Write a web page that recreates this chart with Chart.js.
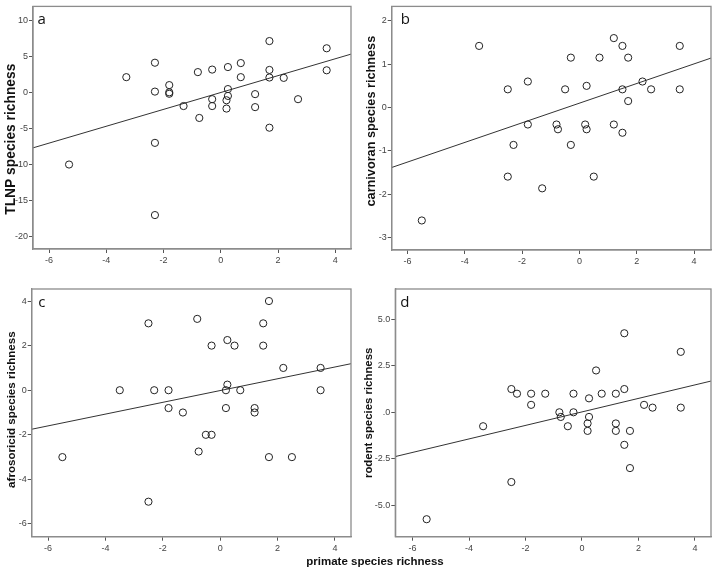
<!DOCTYPE html>
<html>
<head>
<meta charset="utf-8">
<script src="https://cdn.jsdelivr.net/npm/chart.js@4.4.1/dist/chart.umd.min.js"></script>
<style>
  body { margin: 0; background: #fff; width: 716px; height: 569px; position: relative; overflow: hidden; }
  canvas { position: absolute; }
  #xtitle { position: absolute; left: 0; width: 750px; top: 555px; text-align: center;
            font: bold 11.5px "Liberation Sans", Arial, sans-serif; color: #111; }
</style>
</head>
<body>
<canvas id="pa" width="356" height="272" style="left:0;top:0"></canvas>
<canvas id="pb" width="360" height="272" style="left:356px;top:0"></canvas>
<canvas id="pc" width="356" height="297" style="left:0;top:272px"></canvas>
<canvas id="pd" width="360" height="297" style="left:356px;top:272px"></canvas>
<div id="xtitle">primate species richness</div>
<script>
// panel a - TLNP
const aX = [-2.3, -3.3, -2.3, -1.8, -1.8, -1.8, -1.3, -0.8, -0.75, -0.3, -0.3, -0.3, 0.25, 0.25, 0.25, 0.2, 0.2, 0.7, 0.7, 1.2, 1.2, 1.7, 1.7, 1.7, 1.7, 2.2, 2.7, 3.7, 3.7, -2.3, -5.3, -2.3];
const aY = [4.1, 2.1, 0.1, 1.0, 0.0, -0.2, -1.9, 2.8, -3.55, 3.15, -0.95, -1.9, 3.5, 0.45, -0.5, -1.1, -2.25, 4.05, 2.1, -0.25, -2.05, 7.1, 3.1, 2.05, -4.9, 2.0, -0.95, 6.1, 3.05, -7.0, -10.0, -17.0];
const aFit = [[-6.56, -7.69], [4.55, 5.29]];

// panel b - carnivoran
const bX = [-5.5, -3.5, -2.5, -2.5, -2.3, -1.8, -1.8, -1.3, -0.8, -0.75, -0.5, -0.3, -0.3, 0.2, 0.25, 0.25, 0.5, 0.7, 1.2, 1.2, 1.5, 1.5, 1.5, 1.7, 1.7, 2.2, 2.5, 3.5, 3.5];
const bY = [-2.6, 1.42, 0.42, -1.59, -0.86, 0.6, -0.39, -1.86, -0.39, -0.5, 0.42, 1.15, -0.86, -0.39, -0.5, 0.5, -1.59, 1.15, 1.6, -0.39, 1.42, 0.42, -0.58, 1.15, 0.15, 0.6, 0.42, 1.42, 0.42];
const bFit = [[-6.55, -1.38], [4.59, 1.14]];

// panel c - afrosoricid
const cX = [-5.5, -3.5, -2.5, -2.5, -2.3, -1.8, -1.8, -1.3, -0.8, -0.75, -0.5, -0.3, -0.3, 0.25, 0.25, 0.2, 0.2, 0.5, 0.7, 1.2, 1.2, 1.5, 1.5, 1.7, 1.7, 2.2, 2.5, 3.5, 3.5];
const cY = [-3, 0, 3, -5, 0, 0, -0.8, -1, 3.2, -2.75, -2, 2, -2, 2.25, 0.25, 0, -0.8, 2, 0, -0.8, -1, 3, 2, 4, -3, 1, -3, 1, 0];
const cFit = [[-6.57, -1.75], [4.56, 1.19]];

// panel d - rodent
const dX = [-5.5, -3.5, -2.5, -2.5, -2.3, -1.8, -1.8, -1.3, -0.8, -0.75, -0.5, -0.3, -0.3, 0.2, 0.2, 0.25, 0.25, 0.5, 0.7, 1.2, 1.2, 1.2, 1.5, 1.5, 1.5, 1.7, 1.7, 2.2, 2.5, 3.5, 3.5];
const dY = [-5.75, -0.75, 1.25, -3.75, 1, 1, 0.4, 1, 0, -0.25, -0.75, 1, 0, -0.6, -1, 0.75, -0.25, 2.25, 1, 1, -0.6, -1, 4.25, 1.25, -1.75, -1, -3, 0.4, 0.25, 3.25, 0.25];
const dFit = [[-6.61, -2.38], [4.57, 1.68]];

// ticks
const xTicks = [-6, -4, -2, 0, 2, 4];
const aTicks = [-20, -15, -10, -5, 0, 5, 10];
const bTicks = [-3, -2, -1, 0, 1, 2];
const cTicks = [-6, -4, -2, 0, 2, 4];
const dTicks = [-5, -2.5, 0, 2.5, 5];
const dTickLabels = ['-5.0', '-2.5', '.0', '2.5', '5.0'];

Chart.defaults.font.family = '"Liberation Sans", Arial, sans-serif';

// box round the plot area + panel letter
const framePlugin = {
  id: 'frame',
  afterDraw(chart, args, opts) {
    const { ctx, chartArea: a } = chart;
    ctx.save();
    ctx.strokeStyle = '#8c8c8c';
    ctx.lineWidth = 1.3;
    ctx.strokeRect(a.left, a.top, a.right - a.left, a.bottom - a.top);
    ctx.fillStyle = '#111';
    ctx.font = '15px "Open Sans", sans-serif';
    ctx.fillText(opts.letter, a.left + opts.dx, a.top + 18);
    ctx.restore();
  }
};

function makePanel(id, p) {
  const pts = p.xs.map((x, i) => ({ x: x, y: p.ys[i] }));
  const fit = p.fit.map(f => ({ x: f[0], y: f[1] }));
  new Chart(document.getElementById(id), {
    type: 'scatter',
    data: {
      datasets: [
        { data: pts, pointRadius: 3.6, borderColor: '#222', borderWidth: 1,
          backgroundColor: 'rgba(255,255,255,0)' },
        { type: 'line', data: fit, showLine: true, pointRadius: 0,
          borderColor: '#333', borderWidth: 1, fill: false }
      ]
    },
    options: {
      responsive: false,
      animation: false,
      layout: { padding: { left: 0, top: p.top, right: p.right, bottom: 0 } },
      plugins: {
        legend: { display: false },
        tooltip: { enabled: false },
        frame: { letter: p.letter, dx: p.dx }
      },
      scales: {
        x: {
          type: 'linear', min: p.xmin, max: p.xmax,
          afterBuildTicks: s => { s.ticks = xTicks.map(v => ({ value: v })); },
          afterFit: s => { s.height = p.xh; },
          ticks: { color: '#444', font: { size: 9 }, padding: 2, autoSkip: false, maxRotation: 0 },
          grid: { drawOnChartArea: false, tickLength: 4, color: '#555' },
          border: { color: '#8c8c8c', width: 1.3 }
        },
        y: {
          type: 'linear', min: p.ymin, max: p.ymax,
          afterBuildTicks: s => { s.ticks = p.yt.map(v => ({ value: v })); },
          afterFit: s => { s.width = p.yw; },
          ticks: {
            color: '#444', font: { size: 9 }, padding: 1, autoSkip: false,
            callback: (v, i) => p.yl ? p.yl[i] : String(v)
          },
          grid: { drawOnChartArea: false, tickLength: 4, color: '#555' },
          border: { color: '#8c8c8c', width: 1.3 },
          // spaces nudge the label off-centre like the original
          title: { display: true, text: p.title, color: '#111',
                   font: { size: p.tsize, weight: 'bold' }, padding: { top: p.tpad, bottom: 0 } }
        }
      }
    },
    plugins: [framePlugin]
  });
}

makePanel('pa', { xs: aX, ys: aY, fit: aFit, letter: 'a', dx: 4.5, title: 'TLNP species richness      ', tsize: 13.8,
  xmin: -6.56, xmax: 4.55, ymin: -21.7, ymax: 11.9, yt: aTicks,
  top: 1, right: 5, yw: 33, xh: 23, tpad: 3.3 });
makePanel('pb', { xs: bX, ys: bY, fit: bFit, letter: 'b', dx: 9, title: '    carnivoran species richness', tsize: 12.7,
  xmin: -6.55, xmax: 4.59, ymin: -3.28, ymax: 2.33, yt: bTicks,
  top: 1, right: 1.7, yw: 35.7, xh: 22, tpad: 7.4 });
makePanel('pc', { xs: cX, ys: cY, fit: cFit, letter: 'c', dx: 6.5, title: '  afrosoricid species richness', tsize: 11.6,
  xmin: -6.57, xmax: 4.56, ymin: -6.57, ymax: 4.54, yt: cTicks,
  top: 17, right: 1.7, yw: 31.7, xh: 32.3, tpad: 4.5 });
makePanel('pd', { xs: dX, ys: dY, fit: dFit, letter: 'd', dx: 5, title: 'rodent species richness', tsize: 11.4,
  xmin: -6.61, xmax: 4.57, ymin: -6.69, ymax: 6.63, yt: dTicks, yl: dTickLabels,
  top: 17, right: 5, yw: 39.3, xh: 32.3, tpad: 5.6 });
</script>
</body>
</html>
